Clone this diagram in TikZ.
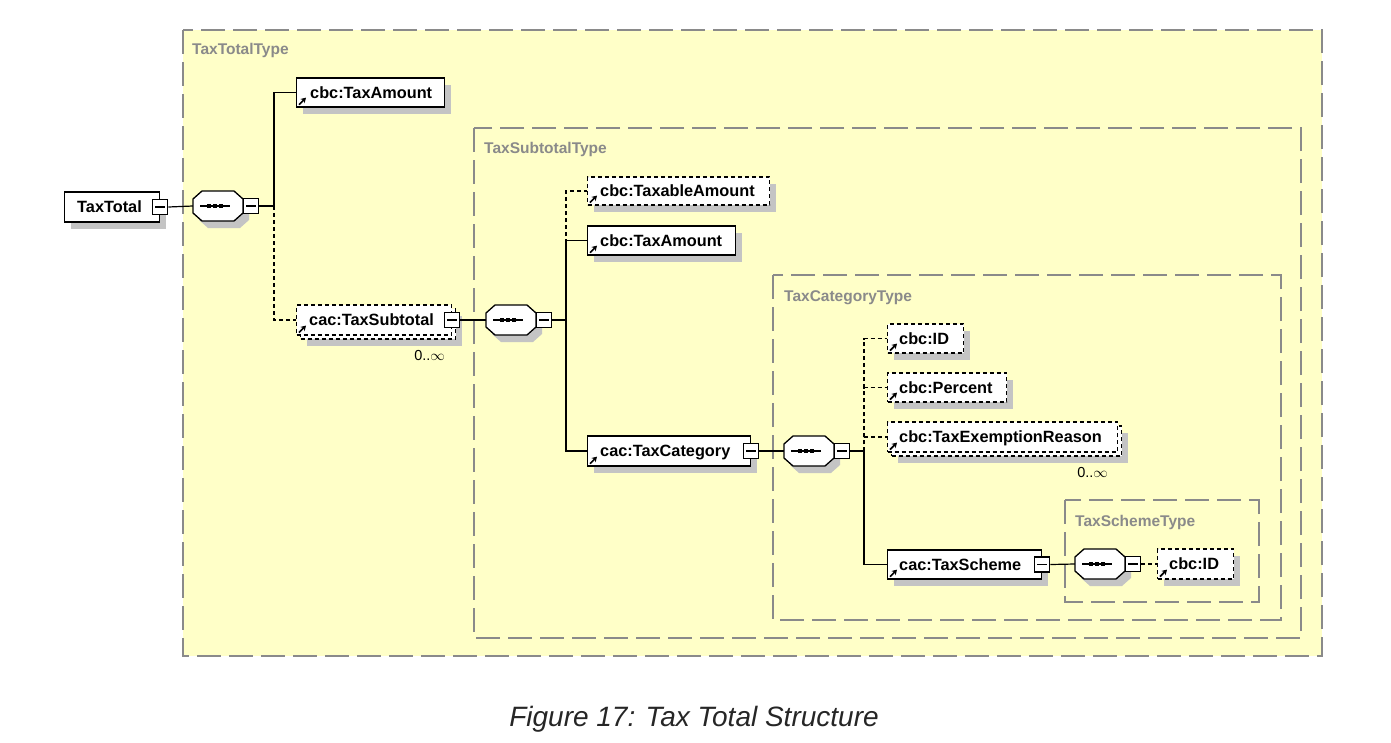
\documentclass[tikz,border=0pt]{standalone}
\usepackage{fontspec}
\setmainfont{Liberation Sans}
\usetikzlibrary{arrows.meta,calc}
\definecolor{cyel}{HTML}{FFFFC8}
\definecolor{cgray}{HTML}{8A8A8A}
\definecolor{cshadow}{HTML}{C4C4C4}
\definecolor{ctext}{HTML}{262626}
\tikzset{
  container/.style={draw=cgray,fill=cyel,line width=1.3pt,dash pattern=on 24pt off 8pt},
  ctitle/.style={anchor=base west,inner sep=0,text=cgray,font=\bfseries\fontsize{15.5}{18}\selectfont},
  shadowed/.style={preaction={fill=cshadow,draw=none,transform canvas={shift={(6pt,-7pt)}}}},
  multi/.style={preaction={fill=cshadow,draw=none,transform canvas={shift={(10pt,-11pt)}}},
                preaction={fill=white,draw=black,line width=1.1pt,dash pattern=on 4pt off 3pt,transform canvas={shift={(4pt,-4pt)}}}},
  elem/.style={draw=black,fill=white,line width=1.3pt,minimum height=29pt,inner sep=0,anchor=west},
  opt/.style={dash pattern=on 4pt off 3pt,line width=1.2pt},
  etext/.style={anchor=base west,inner sep=0,font=\bfseries\fontsize{16.3}{18}\selectfont},
  refarrow/.style={line width=1.6pt,-{Stealth[length=5pt,width=6pt]}},
  minus/.style={draw=black,fill=white,minimum size=15pt,inner sep=0,line width=1.3pt,
     path picture={\draw[line width=1.3pt] ([xshift=2.5pt]path picture bounding box.west) -- ([xshift=-2.5pt]path picture bounding box.east);}},
  seqn/.style={draw=none,minimum width=50pt,minimum height=30pt,inner sep=0},
  conn/.style={line width=1.2pt},
  dconn/.style={line width=1.2pt,dash pattern=on 4pt off 3pt},
  mult/.style={anchor=base east,inner sep=0,font=\fontsize{14.5}{16}\selectfont},
}
% #1 name, #2 x, #3 y (centre of octagon)
\newcommand\seqgrp[3]{%
  \begin{scope}[shift={(#2,#3)}]
    \fill[cshadow] (-10,-8) -- (22,-8) -- (31,0) -- (31,14) -- (22,22) -- (-10,22) -- (-19,14) -- (-19,0) -- cycle;
    \draw[line width=1.3pt,fill=white] (-16,-15) -- (16,-15) -- (25,-7) -- (25,7) -- (16,15) -- (-16,15) -- (-25,7) -- (-25,-7) -- cycle;
    \node[seqn] (#1) at (0,0) {};
    \draw[line width=1.2pt] (-18,0) -- (12,0);
    \fill (-11,-2) rectangle ++(4,4);
    \fill (-5,-2) rectangle ++(4,4);
    \fill (1,-2) rectangle ++(4,4);
    \node[minus] (#1m) at (33,0) {};
  \end{scope}}
\begin{document}
\begin{tikzpicture}[x=1pt,y=-1pt]
\useasboundingbox (0,0) rectangle (1391,742);
\fill[white] (0,0) rectangle (1391,742);

% containers
\path[container] (183,30) rectangle (1322,656);
\node[ctitle] (c1) at (192,54) {TaxTotalType};
\path[container] (474,128) rectangle (1301,638);
\node[ctitle] (c2) at (484,153) {TaxSubtotalType};
\path[container] (773,275) rectangle (1281,620);
\node[ctitle] (c3) at (784,301) {TaxCategoryType};
\path[container] (1065,500) rectangle (1259,602);
\node[ctitle] (c4) at (1075,526) {TaxSchemeType};

% root
\node[elem,shadowed,minimum width=95pt,minimum height=30pt] (tt) at (64,207) {};
\node[etext] (tt-t) at ([xshift=13pt,yshift=-5.8pt]tt.west) {TaxTotal};
\node[minus] (tt-m) at (tt.east) {};

\seqgrp{s1}{218}{206}
\coordinate (sp1) at (274,206);

% level 1
\node[elem,shadowed,minimum width=148pt] (ta1) at (296,92.5) {};
\node[etext] (ta1-t) at ([xshift=14pt,yshift=-5.8pt]ta1.west) {cbc:TaxAmount};
\draw[refarrow] ([xshift=3pt,yshift=3pt]ta1.south west) -- ++(7,-7);

\node[elem,multi,opt,minimum width=155pt,minimum height=30pt] (ts) at (296,320) {};
\node[etext] (ts-t) at ([xshift=13pt,yshift=-5.8pt]ts.west) {cac:TaxSubtotal};
\draw[refarrow] ([xshift=3pt,yshift=3pt]ts.south west) -- ++(7,-7);
\node[minus] (ts-m) at (ts.east) {};
\node[mult] (ts-n) at (445,360) {0..$\infty$};

\seqgrp{s2}{511}{320}
\coordinate (sp2) at (566,320);

% level 2
\node[elem,shadowed,opt,minimum width=182pt,minimum height=28pt] (txa) at (587,191) {};
\node[etext] (txa-t) at ([xshift=13pt,yshift=-5.8pt]txa.west) {cbc:TaxableAmount};
\draw[refarrow] ([xshift=3pt,yshift=3pt]txa.south west) -- ++(7,-7);

\node[elem,shadowed,minimum width=148pt] (ta2) at (587,240.5) {};
\node[etext] (ta2-t) at ([xshift=13pt,yshift=-5.8pt]ta2.west) {cbc:TaxAmount};
\draw[refarrow] ([xshift=3pt,yshift=3pt]ta2.south west) -- ++(7,-7);

\node[elem,shadowed,minimum width=163pt,minimum height=30pt] (tc) at (587,451) {};
\node[etext] (tc-t) at ([xshift=13pt,yshift=-5.8pt]tc.west) {cac:TaxCategory};
\draw[refarrow] ([xshift=3pt,yshift=3pt]tc.south west) -- ++(7,-7);
\node[minus] (tc-m) at (tc.east) {};

\seqgrp{s3}{809}{451}
\coordinate (sp3) at (864,451);

% level 3
\node[elem,shadowed,opt,minimum width=76pt] (id1) at (887,338.5) {};
\node[etext] (id1-t) at ([xshift=12pt,yshift=-5.8pt]id1.west) {cbc:ID};
\draw[refarrow] ([xshift=3pt,yshift=3pt]id1.south west) -- ++(7,-7);

\node[elem,shadowed,opt,minimum width=119pt] (pc) at (887,387.5) {};
\node[etext] (pc-t) at ([xshift=12pt,yshift=-5.8pt]pc.west) {cbc:Percent};
\draw[refarrow] ([xshift=3pt,yshift=3pt]pc.south west) -- ++(7,-7);

\node[elem,multi,opt,minimum width=230pt,minimum height=30pt] (ter) at (887,437) {};
\node[etext] (ter-t) at ([xshift=12pt,yshift=-5.8pt]ter.west) {cbc:TaxExemptionReason};
\draw[refarrow] ([xshift=3pt,yshift=3pt]ter.south west) -- ++(7,-7);
\node[mult] (ter-n) at (1108,477) {0..$\infty$};

\node[elem,shadowed,minimum width=154pt] (tsch) at (887,564.5) {};
\node[etext] (tsch-t) at ([xshift=12pt,yshift=-5.8pt]tsch.west) {cac:TaxScheme};
\draw[refarrow] ([xshift=3pt,yshift=3pt]tsch.south west) -- ++(7,-7);
\node[minus] (tsch-m) at (tsch.east) {};

\seqgrp{s4}{1100}{564}

\node[elem,shadowed,opt,minimum width=76pt,minimum height=30pt] (id2) at (1157,564) {};
\node[etext] (id2-t) at ([xshift=12pt,yshift=-5.8pt]id2.west) {cbc:ID};
\draw[refarrow] ([xshift=3pt,yshift=3pt]id2.south west) -- ++(7,-7);

% connectors
\draw[conn] (tt-m.east) -- (s1.west);
\draw[conn] (s1m.east) -- (sp1);
\draw[conn] (sp1) |- (ta1.west);
\draw[dconn] (sp1) |- (ts.west);

\draw[conn] (ts-m.east) -- (s2.west);
\draw[conn] (s2m.east) -- (sp2);
\draw[dconn] (sp2) |- (txa.west);
\draw[conn] (sp2) |- (ta2.west);
\draw[conn] (sp2) |- (tc.west);

\draw[conn] (tc-m.east) -- (s3.west);
\draw[conn] (s3m.east) -- (sp3);
\draw[dconn] (sp3) |- (id1.west);
\draw[dconn] (sp3) |- (pc.west);
\draw[dconn] (sp3) |- (ter.west);
\draw[conn] (sp3) |- (tsch.west);

\draw[conn] (tsch-m.east) -- (s4.west);
\draw[dconn] (s4m.east) -- (id2.west);

% caption
\node[anchor=base,inner sep=0,text=ctext,font=\itshape\fontsize{28}{30}\selectfont] (cap) at (694,726) {Figure 17: Tax Total Structure};
\end{tikzpicture}
\end{document}
